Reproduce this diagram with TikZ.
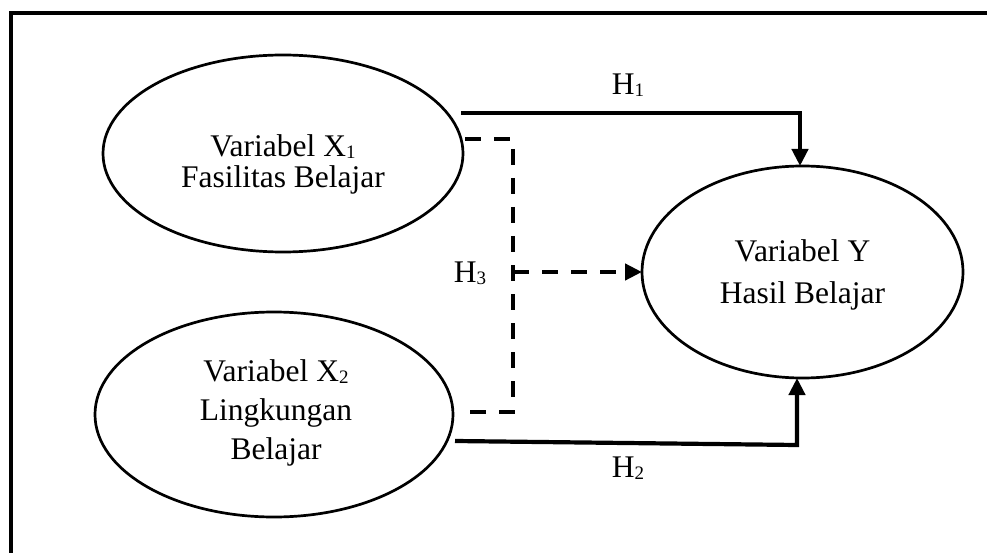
\documentclass[tikz,border=0pt]{standalone}
\usepackage{fontspec}
\setmainfont{Liberation Serif}
\usetikzlibrary{shapes.geometric,arrows.meta}
\newcommand\sbs[1]{\raisebox{-2pt}{\fontsize{19}{19}\selectfont #1}}
\begin{document}
\begin{tikzpicture}[x=1pt,y=-1pt,
  ell/.style={ellipse,draw,line width=2.7pt,inner sep=0pt,outer sep=0pt},
  txt/.style={align=center,inner sep=0pt},
  lbl/.style={inner sep=0pt,font=\fontsize{31.5}{36}\selectfont},
  conn/.style={line width=4.2pt},
  dsh/.style={line width=4.6pt,dash pattern=on 16pt off 13pt},
  tip/.style={-{Triangle[length=17pt,width=16pt]}}
]
\useasboundingbox (0,0) rectangle (987,553);
\fill[white] (0,0) rectangle (987,553);
% frame (only top and left edges visible)
\draw[line width=4pt] (10.5,553) -- (10.5,13.5) -- (987,13.5);
% ellipses
\node[ell,minimum width=360pt,minimum height=197pt] (x1) at (283,153.5) {};
\node[ell,minimum width=358pt,minimum height=205pt] (x2) at (274,414.5) {};
\node[ell,minimum width=321pt,minimum height=212pt] (y) at (802.5,272) {};
% texts
\node[txt,font=\fontsize{31.5}{31}\selectfont] (x1t) at (283,164) {Variabel X\sbs{1}\\Fasilitas Belajar};
\node[txt,font=\fontsize{31.5}{39}\selectfont] (x2t) at (276,413) {Variabel X\sbs{2}\\Lingkungan\\Belajar};
\node[txt,font=\fontsize{31.5}{42}\selectfont] (yt) at (802.5,275) {Variabel Y\\Hasil Belajar};
% H1
\coordinate (h1s) at (461,113);
\coordinate (h1c) at (800,113);
\draw[conn,tip] (h1s) -- (h1c) -- (h1c |- y.north);
\node[lbl,anchor=base] (h1) at (628,95) {H\sbs{1}};
% H2
\coordinate (h2s) at (455,441);
\coordinate (h2c) at (797,445);
\draw[conn,tip] (h2s) -- (h2c) -- (h2c |- y.south);
\node[lbl,anchor=base] (h2) at (628,477) {H\sbs{2}};
% H3 (dashed)
\coordinate (d1) at (465,139);
\coordinate (d2) at (460,412);
\coordinate (dj) at (513,272);
\draw[dsh] (d1) -- (d1 -| dj) -- (d2 -| dj) -- (d2);
\draw[dsh,tip] (dj) -- (y.west);
\node[lbl,anchor=base] (h3) at (470,282) {H\sbs{3}};
\end{tikzpicture}
\end{document}
